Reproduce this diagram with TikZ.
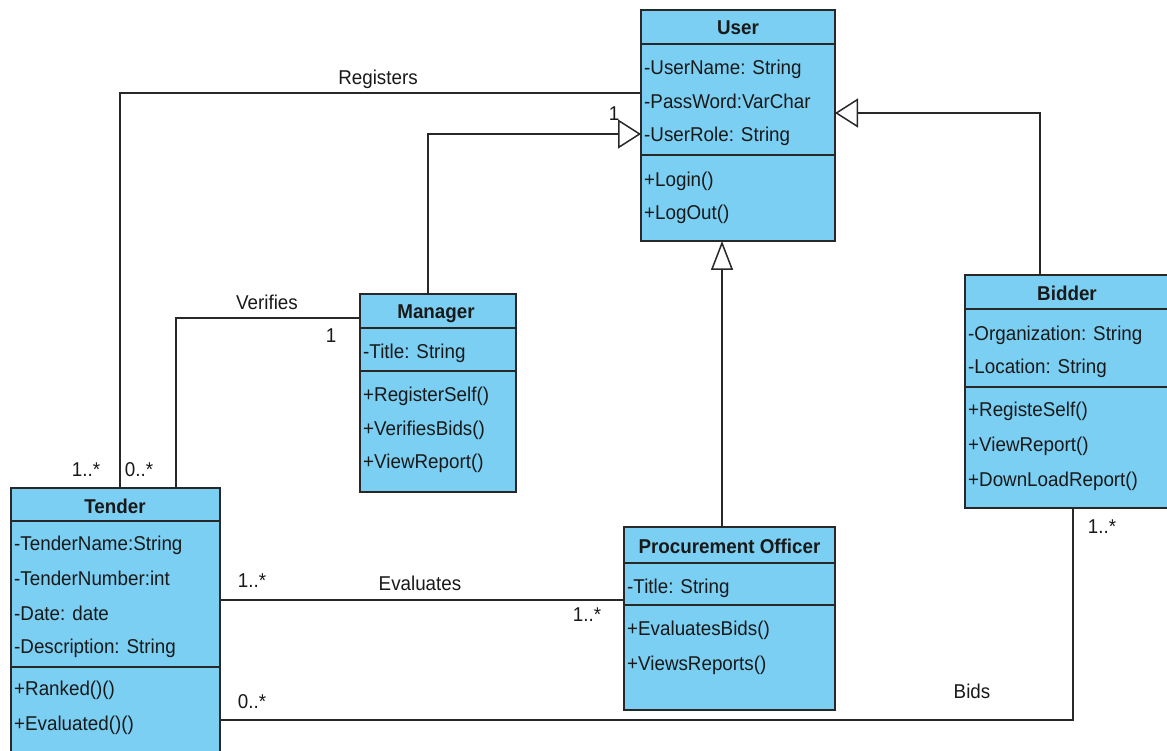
\documentclass[tikz,border=0pt]{standalone}
\usepackage{fontspec}
\setmainfont[FakeStretch=0.94]{Liberation Sans}
\usetikzlibrary{arrows.meta}
\definecolor{boxc}{RGB}{122,207,243}
\definecolor{linec}{RGB}{40,40,40}
\definecolor{txtc}{RGB}{25,25,25}
\tikzset{
  cls/.style={draw=linec, fill=boxc, line width=1.7pt, anchor=north west, inner sep=0pt, outer sep=0pt},
  sepline/.style={draw=linec, line width=1.7pt},
  row/.style={anchor=base west, inner sep=0pt, text=txtc, font=\fontsize{20}{24}\selectfont},
  hdr/.style={anchor=base, inner sep=0pt, text=txtc, font=\fontsize{20}{24}\selectfont\bfseries},
  lbl/.style={anchor=base, inner sep=0pt, text=txtc, font=\fontsize{20}{24}\selectfont},
  conn/.style={draw=linec, line width=1.5pt},
  hgen/.style={-{Triangle[length=23pt,width=29pt,fill=white,line width=1.5pt]}},
  vgen/.style={-{Triangle[length=29pt,width=22pt,fill=white,line width=1.5pt]}}
}
\begin{document}
\begin{tikzpicture}[x=1pt,y=-1pt]
\useasboundingbox (0,0) rectangle (1167,751);
\clip (0,0) rectangle (1167,751);
\fill[white] (0,0) rectangle (1167,751);

% ---------- User ----------
\node[cls, minimum width=194pt, minimum height=231pt] (user) at (641,10) {};
\draw[sepline] ([yshift=-34pt]user.north west) -- ([yshift=-34pt]user.north east);
\draw[sepline] ([yshift=-145pt]user.north west) -- ([yshift=-145pt]user.north east);
\node[hdr] (userh) at (738,35) {User};
\node[row] (u1) at (644,75) {-UserName: String};
\node[row] (u2) at (644,109) {-PassWord:VarChar};
\node[row] (u3) at (644,142) {-UserRole: String};
\node[row] (u4) at (644,187) {+Login()};
\node[row] (u5) at (644,220) {+LogOut()};

% ---------- Manager ----------
\node[cls, minimum width=156pt, minimum height=198pt] (manager) at (360,294) {};
\draw[sepline] ([yshift=-34pt]manager.north west) -- ([yshift=-34pt]manager.north east);
\draw[sepline] ([yshift=-77pt]manager.north west) -- ([yshift=-77pt]manager.north east);
\node[hdr] (managerh) at (436,318) {Manager};
\node[row] (m1) at (363,358) {-Title: String};
\node[row] (m2) at (363,401) {+RegisterSelf()};
\node[row] (m3) at (363,435) {+VerifiesBids()};
\node[row] (m4) at (363,468) {+ViewReport()};

% ---------- Bidder ----------
\node[cls, minimum width=204pt, minimum height=233pt] (bidder) at (965,275) {};
\draw[sepline] ([yshift=-34pt]bidder.north west) -- ([yshift=-34pt]bidder.north east);
\draw[sepline] ([yshift=-112pt]bidder.north west) -- ([yshift=-112pt]bidder.north east);
\node[hdr] (bidderh) at (1067,301) {Bidder};
\node[row] (b1) at (968,340) {-Organization: String};
\node[row] (b2) at (968,373) {-Location: String};
\node[row] (b3) at (968,416) {+RegisteSelf()};
\node[row] (b4) at (968,451) {+ViewReport()};
\node[row] (b5) at (968,486) {+DownLoadReport()};

% ---------- Tender ----------
\node[cls, minimum width=209pt, minimum height=272pt] (tender) at (11,488) {};
\draw[sepline] ([yshift=-33pt]tender.north west) -- ([yshift=-33pt]tender.north east);
\draw[sepline] ([yshift=-179pt]tender.north west) -- ([yshift=-179pt]tender.north east);
\node[hdr] (tenderh) at (115,513) {Tender};
\node[row] (t1) at (14,550) {-TenderName:String};
\node[row] (t2) at (14,585) {-TenderNumber:int};
\node[row] (t3) at (14,620) {-Date: date};
\node[row] (t4) at (14,653) {-Description: String};
\node[row] (t5) at (14,695) {+Ranked()()};
\node[row] (t6) at (14,730) {+Evaluated()()};

% ---------- Procurement Officer ----------
\node[cls, minimum width=211pt, minimum height=183pt] (po) at (624,527) {};
\draw[sepline] ([yshift=-36pt]po.north west) -- ([yshift=-36pt]po.north east);
\draw[sepline] ([yshift=-78pt]po.north west) -- ([yshift=-78pt]po.north east);
\node[hdr] (poh) at (729.5,553) {Procurement Officer};
\node[row] (p1) at (627,593) {-Title: String};
\node[row] (p2) at (627,635) {+EvaluatesBids()};
\node[row] (p3) at (627,670) {+ViewsReports()};

% ---------- Connectors ----------
% Registers
\draw[conn] ([yshift=-83pt]user.north west) -| ([xshift=109pt]tender.north west);
% Verifies
\draw[conn] ([yshift=-24pt]manager.north west) -| ([xshift=165pt]tender.north west);
% Evaluates
\draw[conn] ([yshift=-112pt]tender.north east) -- ([yshift=-73pt]po.north west);
% Bids
\draw[conn] ([yshift=-232pt]tender.north east) -| ([xshift=108pt]bidder.south west);
% Generalizations
\draw[conn, hgen] ([xshift=68pt]manager.north west) |- ([yshift=-124pt]user.north west);
\draw[conn, vgen] ([xshift=98pt]po.north west) -- ([xshift=81pt]user.south west);
\draw[conn, hgen] ([xshift=75pt]bidder.north west) |- ([yshift=-103pt]user.north east);

% ---------- Labels ----------
\node[lbl] (lreg) at (378,85) {Registers};
\node[lbl] (lreg1) at (614,121) {1};
\node[lbl] (lreg2) at (86,476) {1..*};
\node[lbl] (lver) at (267,309) {Verifies};
\node[lbl] (lver1) at (331,342) {1};
\node[lbl] (lver2) at (139,476) {0..*};
\node[lbl] (leva) at (420,590) {Evaluates};
\node[lbl] (leva1) at (252,587) {1..*};
\node[lbl] (leva2) at (587,621) {1..*};
\node[lbl] (lbids) at (972,698) {Bids};
\node[lbl] (lbids1) at (252,708) {0..*};
\node[lbl] (lbids2) at (1102,533) {1..*};
\end{tikzpicture}
\end{document}
